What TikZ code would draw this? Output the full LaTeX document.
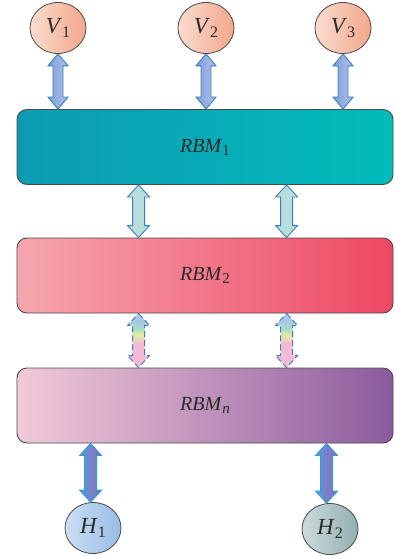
\documentclass[tikz,border=0pt]{standalone}
\usepackage{fontspec}
\setmainfont{Liberation Serif}
\usetikzlibrary{shapes.geometric,calc}
\definecolor{edgegray}{HTML}{4A4A4A}
\definecolor{txt}{HTML}{2A2A2A}
\definecolor{vL}{HTML}{FADCCF}
\definecolor{vR}{HTML}{F2A78A}
\definecolor{r1L}{HTML}{0E9AB3}
\definecolor{r1R}{HTML}{02BCBA}
\definecolor{r2L}{HTML}{F5A6AF}
\definecolor{r2R}{HTML}{EE4863}
\definecolor{rnL}{HTML}{F2CAD8}
\definecolor{rnR}{HTML}{8B5C9E}
\definecolor{h1L}{HTML}{CADFF3}
\definecolor{h1R}{HTML}{98BCE4}
\definecolor{h2L}{HTML}{CCDBDB}
\definecolor{h2R}{HTML}{93AFB0}
\definecolor{arrblue}{HTML}{3A7DC0}
\definecolor{arrcyan}{HTML}{2E9ED8}
\definecolor{vaL}{HTML}{7E9ED8}
\definecolor{vaR}{HTML}{AFC2EA}
\definecolor{taF}{HTML}{B7DEDC}
\definecolor{haL}{HTML}{5A9BE0}
\definecolor{haR}{HTML}{9068B4}
\definecolor{dPink}{HTML}{F5BAD6}
\definecolor{dYel}{HTML}{E3EDA2}
\definecolor{dGrn}{HTML}{A6DCC8}
\definecolor{dBlu}{HTML}{A9C6E2}
\pgfdeclareverticalshading{rainbowarrow}{100bp}{color(0bp)=(dPink); color(25bp)=(dPink); color(47bp)=(dPink); color(55bp)=(dYel); color(61bp)=(dGrn); color(68bp)=(dBlu); color(75bp)=(dBlu); color(100bp)=(dBlu)}
\newcommand\lbl[3]{\textit{#1}\raisebox{-0.32ex}{\fontsize{#3}{#3}\selectfont #2}}
\tikzset{
  unit/.style={ellipse, draw=edgegray, line width=0.8pt, minimum width=56pt, minimum height=51pt, inner sep=0pt, text=txt, font=\fontsize{23}{26}\selectfont},
  rbm/.style={rectangle, rounded corners=10pt, draw=edgegray, line width=0.9pt, minimum width=376pt, minimum height=75pt, inner sep=0pt, text=txt, font=\fontsize{20}{24}\selectfont},
}
\tikzset{
  varrow/.style={draw=arrblue, line width=0.9pt, left color=vaL, right color=vaR, line join=miter},
  tarrow/.style={draw=arrblue, line width=0.9pt, fill=taF, line join=miter},
  darrow/.style={draw=arrblue, line width=0.9pt, dash pattern=on 6pt off 3pt, shading=rainbowarrow, line join=miter},
  harrow/.style={draw=arrcyan, line width=0.9pt, left color=haL, right color=haR, line join=miter},
}
% #1 style, #2 top tip, #3 bottom tip, #4 half shaft, #5 half head
\newcommand\dblarrow[5]{%
  \path[#1] let \p1=(#2), \p2=(#3) in
    (\x1,\y1) -- (\x1+#5,\y1-12pt) -- (\x1+#4,\y1-12pt) -- (\x1+#4,\y2+12pt)
    -- (\x1+#5,\y2+12pt) -- (\x1,\y2) -- (\x1-#5,\y2+12pt) -- (\x1-#4,\y2+12pt)
    -- (\x1-#4,\y1-12pt) -- (\x1-#5,\y1-12pt) -- cycle;}
\begin{document}
\begin{tikzpicture}[x=1pt,y=-1pt]
\useasboundingbox (0,0) rectangle (394,556);
% visible units
\node[unit, left color=vL, right color=vR] (V1) at (58,28) {\lbl{V}{1}{16}};
\node[unit, left color=vL, right color=vR] (V2) at (206,28) {\lbl{V}{2}{16}};
\node[unit, left color=vL, right color=vR] (V3) at (343,28) {\lbl{V}{3}{16}};
% RBM boxes
\node[rbm, left color=r1L, right color=r1R] (R1) at (205,147) {\lbl{RBM}{1}{15}};
\node[rbm, left color=r2L, right color=r2R] (R2) at (205,275.5) {\lbl{RBM}{2}{15}};
\node[rbm, left color=rnL, right color=rnR] (Rn) at (205,405.5) {\lbl{RBM}{\textit{n}}{15}};
% hidden units
\node[unit, left color=h1L, right color=h1R] (H1) at (93,528) {\lbl{H}{1}{16}};
\node[unit, left color=h2L, right color=h2R] (H2) at (330,529) {\lbl{H}{2}{16}};
% coordinates between boxes
\path (R1.south west) ++(122,0) coordinate (a1t);
\path (R1.south west) ++(270,0) coordinate (a2t);
\path (R2.south west) ++(122,0) coordinate (b1t);
\path (R2.south west) ++(270,0) coordinate (b2t);
\path (Rn.south west) ++(74,0) coordinate (c1t);
\path (Rn.south west) ++(310,0) coordinate (c2t);
% V arrows
\dblarrow{varrow}{V1.south}{V1.south |- R1.north}{5pt}{10pt}
\dblarrow{varrow}{V2.south}{V2.south |- R1.north}{5pt}{10pt}
\dblarrow{varrow}{V3.south}{V3.south |- R1.north}{5pt}{10pt}
% RBM1 - RBM2
\dblarrow{tarrow}{a1t}{a1t |- R2.north}{6pt}{11pt}
\dblarrow{tarrow}{a2t}{a2t |- R2.north}{6pt}{11pt}
% RBM2 - RBMn (dashed)
\dblarrow{darrow}{b1t}{b1t |- Rn.north}{6pt}{11pt}
\dblarrow{darrow}{b2t}{b2t |- Rn.north}{6pt}{11pt}
% RBMn - H
\dblarrow{harrow}{c1t}{c1t |- H1.north}{6pt}{11pt}
\dblarrow{harrow}{c2t}{c2t |- H2.north}{6pt}{11pt}
\end{tikzpicture}
\end{document}
